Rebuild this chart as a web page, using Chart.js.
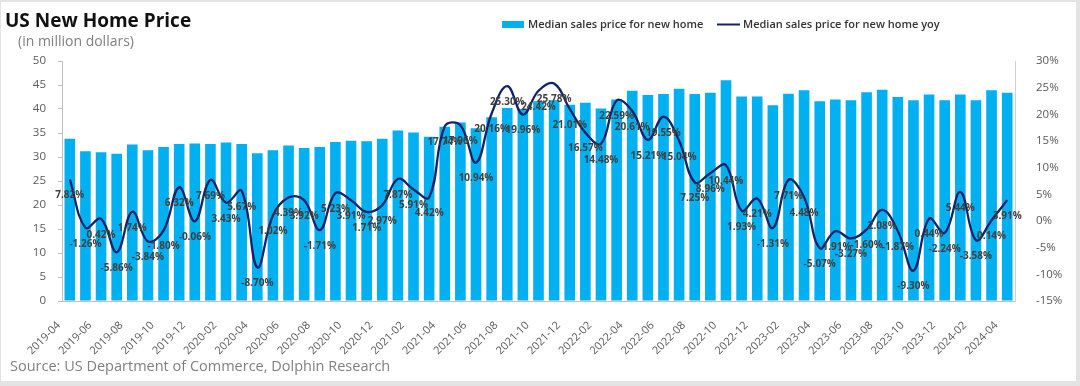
<!DOCTYPE html>
<html>
<head>
<meta charset="utf-8">
<script src="https://cdn.jsdelivr.net/npm/chart.js@4.4.1/dist/chart.umd.min.js"></script>
<style>
  html, body { margin: 0; padding: 0; background: #fff; }
  canvas { display: block; }
</style>
</head>
<body>
<canvas id="chart" width="1080" height="386"></canvas>
<script>
// months, 2019-04 .. 2024-04
const months = [
  '2019-04','2019-05','2019-06','2019-07','2019-08','2019-09','2019-10','2019-11','2019-12',
  '2020-01','2020-02','2020-03','2020-04','2020-05','2020-06','2020-07','2020-08','2020-09','2020-10','2020-11','2020-12',
  '2021-01','2021-02','2021-03','2021-04','2021-05','2021-06','2021-07','2021-08','2021-09','2021-10','2021-11','2021-12',
  '2022-01','2022-02','2022-03','2022-04','2022-05','2022-06','2022-07','2022-08','2022-09','2022-10','2022-11','2022-12',
  '2023-01','2023-02','2023-03','2023-04','2023-05','2023-06','2023-07','2023-08','2023-09','2023-10','2023-11','2023-12',
  '2024-01','2024-02','2024-03','2024-04'
];

// median sales price for new home
const medianPrice = [
  33.8, 31.2, 31.0, 30.7, 32.6, 31.4, 32.1, 32.7, 32.8,
  32.7, 33.0, 32.7, 30.8, 31.4, 32.4, 31.9, 32.1, 33.1, 33.4, 33.3, 33.8,
  35.5, 35.1, 34.2, 36.3, 37.2, 36.0, 38.3, 40.2, 40.0, 41.6, 41.8, 40.9,
  41.3, 40.1, 42.0, 43.8, 42.9, 43.1, 44.2, 43.1, 43.4, 46.0, 42.6, 42.6,
  40.8, 43.2, 43.9, 41.6, 42.0, 41.8, 43.5, 44.0, 42.5, 41.8, 43.0, 41.8,
  43.0, 41.8, 43.9, 43.4
];

// yoy, %
const medianYoy = [
  7.82, -1.26, 0.42, -5.86, 1.74, -3.84, -1.80, 6.32, -0.06,
  7.69, 3.43, 5.67, -8.70, 1.02, 4.39, 3.92, -1.71, 5.23, 3.91, 1.71, 2.97,
  7.87, 5.91, 4.42, 17.74, 17.96, 10.94, 20.16, 25.30, 19.96, 24.42, 25.78, 21.01,
  16.57, 14.48, 22.59, 20.61, 15.21, 19.55, 15.04, 7.25, 8.96, 10.44, 1.93, 4.21,
  -1.31, 7.71, 4.48, -5.07, -1.91, -3.27, -1.60, 2.08, -1.87, -9.30, 0.44, -2.24,
  5.44, -3.58, 0.14, 3.91
];

const seriesNames = ['Median sales price for new home', 'Median sales price for new home yoy'];

const FONT = '"Open Sans", "Noto Sans", sans-serif';
const BAR_BLUE = '#00b0f0';
const LINE_NAVY = '#13236a';

// frame, title, legend, source
const decor = {
  id: 'decor',
  beforeDraw(chart) {
    const ctx = chart.ctx;
    ctx.save();
    ctx.fillStyle = '#e3e3e3';
    ctx.fillRect(0, 0, chart.width, chart.height);
    ctx.fillStyle = '#ffffff';
    ctx.fillRect(1, 2, 1075, 379);
    ctx.restore();
  },
  afterDraw(chart) {
    const ctx = chart.ctx;
    ctx.save();
    ctx.textBaseline = 'alphabetic';
    ctx.textAlign = 'left';

    ctx.fillStyle = '#111';
    ctx.font = 'bold 19px ' + FONT;
    ctx.fillText('US New Home Price', 5, 27);

    ctx.fillStyle = '#7f7f7f';
    ctx.font = '14px ' + FONT;
    ctx.fillText('(in million dollars)', 18, 46);

    ctx.font = '14.5px ' + FONT;
    ctx.fillStyle = '#808080';
    ctx.fillText('Source: US Department of Commerce, Dolphin Research', 10, 371);

    // legend
    ctx.font = '600 11px ' + FONT;
    ctx.textBaseline = 'middle';
    ctx.fillStyle = BAR_BLUE;
    ctx.fillRect(502, 21, 22, 7);
    ctx.fillStyle = '#333';
    ctx.fillText(seriesNames[0], 528, 24.5);
    ctx.strokeStyle = LINE_NAVY;
    ctx.lineWidth = 2;
    ctx.beginPath();
    ctx.moveTo(717, 24.5);
    ctx.lineTo(740, 24.5);
    ctx.stroke();
    ctx.fillText(seriesNames[1], 743, 24.5);
    ctx.restore();
  }
};

// yoy value labels under each point
const yoyLabels = {
  id: 'yoyLabels',
  afterDatasetsDraw(chart) {
    const ctx = chart.ctx;
    const meta = chart.getDatasetMeta(1);
    ctx.save();
    ctx.font = 'bold 10px ' + FONT;
    ctx.fillStyle = '#404040';
    ctx.textAlign = 'center';
    ctx.textBaseline = 'middle';
    meta.data.forEach((pt, i) => {
      ctx.fillText(medianYoy[i].toFixed(2) + '%', pt.x, pt.y + 16);
    });
    ctx.restore();
  }
};

new Chart(document.getElementById('chart'), {
  data: {
    labels: months,
    datasets: [
      {
        type: 'bar',
        label: seriesNames[0],
        data: medianPrice,
        backgroundColor: BAR_BLUE,
        barPercentage: 0.68,
        categoryPercentage: 1,
        yAxisID: 'y',
        order: 2
      },
      {
        type: 'line',
        label: seriesNames[1],
        data: medianYoy,
        borderColor: LINE_NAVY,
        borderWidth: 2.3,
        pointRadius: 0,
        tension: 0.4,
        yAxisID: 'y1',
        order: 1
      }
    ]
  },
  options: {
    responsive: false,
    animation: false,
    devicePixelRatio: 1,
    layout: { padding: { top: 61, left: 0, right: 0, bottom: 0 } },
    plugins: {
      legend: { display: false },
      tooltip: { enabled: false }
    },
    scales: {
      x: {
        grid: { display: false },
        border: { display: true, color: '#bfbfbf' },
        ticks: {
          autoSkip: false,
          minRotation: 45,
          maxRotation: 45,
          padding: 10,
          labelOffset: -11,
          color: '#595959',
          font: { family: FONT, size: 11 },
          callback(v, i) { return i % 2 === 0 ? months[i] : ''; }
        },
        afterFit(s) { s.height = 85; }
      },
      y: {
        position: 'left',
        min: 0,
        max: 50,
        grid: { display: true, drawOnChartArea: false, tickLength: 4, color: '#bfbfbf' },
        border: { display: true, color: '#bfbfbf' },
        ticks: {
          stepSize: 5,
          padding: 12,
          color: '#595959',
          font: { family: FONT, size: 11.5 }
        },
        afterFit(s) { s.width = 62; }
      },
      y1: {
        position: 'right',
        min: -15,
        max: 30,
        grid: { display: false },
        border: { display: true, color: '#d0d0d0' },
        ticks: {
          stepSize: 5,
          padding: 13,
          color: '#595959',
          font: { family: FONT, size: 11.5 },
          callback(v) { return v + '%'; }
        },
        afterFit(s) { s.width = 65; }
      }
    }
  },
  plugins: [decor, yoyLabels]
});
</script>
</body>
</html>
